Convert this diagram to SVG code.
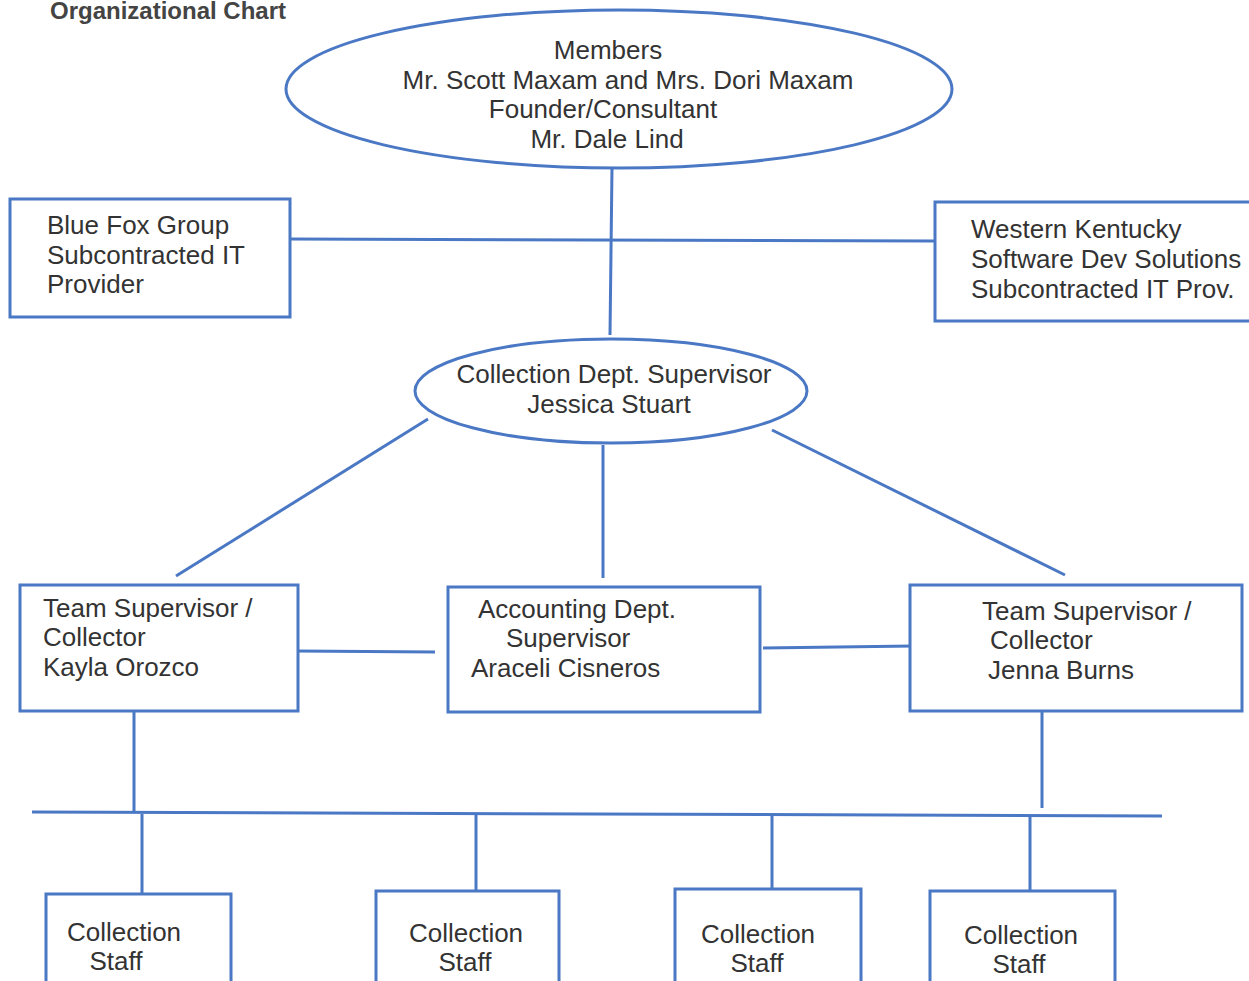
<svg xmlns="http://www.w3.org/2000/svg" width="1249" height="981" viewBox="0 0 1249 981">
<style>
.s{fill:none;stroke:#4a78c4;stroke-width:3}
.b{fill:#fff;stroke:#4a78c4;stroke-width:3}
text{font-family:"Liberation Sans",Arial,sans-serif;font-size:26px;fill:#333}
.c{text-anchor:middle}
.t{font-weight:bold;font-size:24px;fill:#444}
</style>
<rect width="1249" height="981" fill="#fff"/>
<text class="t" x="50" y="19">Organizational Chart</text>
<g id="connectors" class="s">
<line x1="612" y1="168" x2="610" y2="335"/>
<line x1="290" y1="239" x2="935" y2="241"/>
<line x1="428" y1="419" x2="176" y2="576"/>
<line x1="772" y1="430" x2="1065" y2="575"/>
<line x1="603" y1="445" x2="603" y2="578"/>
<line x1="296" y1="651" x2="435" y2="652"/>
<line x1="763" y1="648" x2="913" y2="646"/>
<line x1="134" y1="712" x2="134" y2="812"/>
<line x1="1042" y1="712" x2="1042" y2="808"/>
<line x1="32" y1="812" x2="1162" y2="816"/>
<line x1="142" y1="814" x2="142" y2="894"/>
<line x1="476" y1="814" x2="476" y2="898"/>
<line x1="772" y1="815" x2="772" y2="892"/>
<line x1="1030" y1="816" x2="1030" y2="894"/>
</g>
<g id="members">
<ellipse class="b" cx="619" cy="89" rx="333" ry="79"/>
<text class="c" x="608" y="59">Members</text>
<text class="c" x="628" y="89">Mr. Scott Maxam and Mrs. Dori Maxam</text>
<text class="c" x="603" y="118">Founder/Consultant</text>
<text class="c" x="607" y="148">Mr. Dale Lind</text>
</g>
<g id="bluefox">
<rect class="b" x="10" y="199" width="280" height="118"/>
<text x="47" y="234">Blue Fox Group</text>
<text x="47" y="264">Subcontracted IT</text>
<text x="47" y="293">Provider</text>
</g>
<g id="westernky">
<rect class="b" x="935" y="202" width="320" height="119"/>
<text x="971" y="238">Western Kentucky</text>
<text x="971" y="268">Software Dev Solutions</text>
<text x="971" y="298">Subcontracted IT Prov.</text>
</g>
<g id="collectionsup">
<ellipse class="b" cx="611" cy="391" rx="196" ry="52"/>
<text class="c" x="614" y="383">Collection Dept. Supervisor</text>
<text class="c" x="609" y="413">Jessica Stuart</text>
</g>
<g id="kayla">
<rect class="b" x="20" y="585" width="278" height="126"/>
<text x="43" y="617">Team Supervisor /</text>
<text x="43" y="646">Collector</text>
<text x="43" y="676">Kayla Orozco</text>
</g>
<g id="accounting">
<rect class="b" x="448" y="587" width="312" height="125"/>
<text x="478" y="618">Accounting Dept.</text>
<text x="506" y="647">Supervisor</text>
<text x="471" y="677">Araceli Cisneros</text>
</g>
<g id="jenna">
<rect class="b" x="910" y="585" width="332" height="126"/>
<text x="982" y="620">Team Supervisor /</text>
<text x="990" y="649">Collector</text>
<text x="988" y="679">Jenna Burns</text>
</g>
<g id="staff1">
<rect class="b" x="46" y="894" width="185" height="100"/>
<text class="c" x="124" y="941">Collection</text>
<text class="c" x="116" y="970">Staff</text>
</g>
<g id="staff2">
<rect class="b" x="376" y="891" width="183" height="100"/>
<text class="c" x="466" y="942">Collection</text>
<text class="c" x="465" y="971">Staff</text>
</g>
<g id="staff3">
<rect class="b" x="675" y="889" width="186" height="100"/>
<text class="c" x="758" y="943">Collection</text>
<text class="c" x="757" y="972">Staff</text>
</g>
<g id="staff4">
<rect class="b" x="930" y="891" width="185" height="100"/>
<text class="c" x="1021" y="944">Collection</text>
<text class="c" x="1019" y="973">Staff</text>
</g>
</svg>
